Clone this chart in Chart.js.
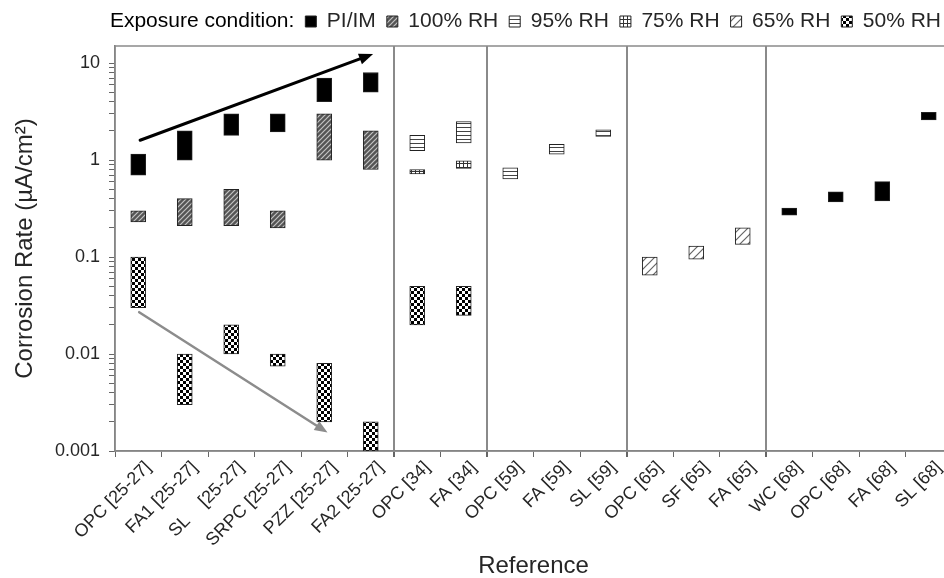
<!DOCTYPE html>
<html><head><meta charset="utf-8">
<script src="https://cdn.jsdelivr.net/npm/chart.js@4.4.1/dist/chart.umd.min.js"></script>
<style>html,body{margin:0;padding:0;overflow:hidden;background:#fff;width:944px;height:578px}canvas{display:block}</style>
</head><body>
<canvas id="c" width="960" height="578"></canvas>
<script>
// ---- data ----
const categories = ['OPC [25-27]','FA1 [25-27]','SL    [25-27]','SRPC [25-27]','PZZ [25-27]','FA2 [25-27]',
  'OPC [34]','FA [34]','OPC [59]','FA [59]','SL [59]','OPC [65]','SF [65]','FA [65]',
  'WC [68]','OPC [68]','FA [68]','SL [68]'];
const seriesNames = ['PI/IM','100% RH','95% RH','75% RH','65% RH','50% RH'];
const piIm  = [[0.7,1.15],[1,2],[1.8,3],[1.95,3],[4,7],[5,8],null,null,null,null,null,null,null,null,[0.27,0.32],[0.37,0.47],[0.38,0.6],[2.6,3.1]];
const rh100 = [[0.23,0.3],[0.21,0.4],[0.21,0.5],[0.2,0.3],[1,3],[0.8,2],null,null,null,null,null,null,null,null,null,null,null,null];
const rh95  = [null,null,null,null,null,null,[1.25,1.8],[1.5,2.5],[0.64,0.83],[1.15,1.45],[1.75,2.05],null,null,null,null,null,null,null];
const rh75  = [null,null,null,null,null,null,[0.72,0.8],[0.82,0.98],null,null,null,null,null,null,null,null,null,null];
const rh65  = [null,null,null,null,null,null,null,null,null,null,null,[0.065,0.1],[0.095,0.13],[0.135,0.2],null,null,null,null];
const rh50  = [[0.03,0.1],[0.003,0.01],[0.01,0.02],[0.0075,0.01],[0.002,0.008],[0.001,0.002],[0.02,0.05],[0.025,0.05],null,null,null,null,null,null,null,null,null,null];
const yMajorTicks = [0.001,0.01,0.1,1,10];
const yTickLabels = ['0.001','0.01','0.1','1','10'];
const groupStarts = [6,8,11,14];
const legendTitle = 'Exposure condition:';
const yTitle = 'Corrosion Rate (\u00B5A/cm\u00B2)';
const xTitle = 'Reference';
const arrowUp   = {from:[0.04,1.6],  to:[5.05,12.4]};
const arrowDown = {from:[0.02,0.027], to:[4.07,0.00155]};

// ---- patterns ----
function makePattern(size, draw){const c=document.createElement('canvas');c.width=c.height=size;const g=c.getContext('2d');draw(g,size);return g.createPattern(c,'repeat');}
const fillPI = '#000000';
const fill100 = makePattern(5,(g,s)=>{g.fillStyle='#555';g.fillRect(0,0,s,s);g.strokeStyle='#c4c4c4';g.lineWidth=1.2;g.beginPath();g.moveTo(0,s);g.lineTo(s,0);g.moveTo(-2,2);g.lineTo(2,-2);g.moveTo(s-2,s+2);g.lineTo(s+2,s-2);g.stroke();});
const fill95 = makePattern(4,(g,s)=>{g.fillStyle='#fff';g.fillRect(0,0,s,s);g.fillStyle='#444';g.fillRect(0,3,s,1);});
const fill75 = makePattern(4,(g,s)=>{g.fillStyle='#fff';g.fillRect(0,0,s,s);g.fillStyle='#333';g.fillRect(0,3,s,1);g.fillRect(3,0,1,s);});
const fill65 = makePattern(8,(g,s)=>{g.fillStyle='#fff';g.fillRect(0,0,s,s);g.strokeStyle='#666';g.lineWidth=1.2;g.beginPath();g.moveTo(0,s);g.lineTo(s,0);g.moveTo(-2,2);g.lineTo(2,-2);g.moveTo(s-2,s+2);g.lineTo(s+2,s-2);g.stroke();});
const fill50 = makePattern(6,(g,s)=>{g.fillStyle='#fff';g.fillRect(0,0,s,s);g.fillStyle='#000';g.fillRect(0,0,3,3);g.fillRect(3,3,3,3);});

const yMinorTicks = [];
[0.001,0.01,0.1,1].forEach(d=>{for(let k=2;k<=9;k++) yMinorTicks.push(+(d*k).toPrecision(3));});
const yAllTicks = yMajorTicks.concat(yMinorTicks).sort((a,b)=>a-b);

const FONT = "'Liberation Sans', Arial, sans-serif";
const TXT = '#262626';

function ds(label, data, fill){
  return {label, data, backgroundColor: fill, borderColor:'#222', borderWidth:1, borderSkipped:false,
    grouped:false, barThickness:15};
}

const legendSpacer = {id:'legendSpacer', beforeInit(chart){
  const lg = chart.legend; if(!lg) return;
  const f = lg.fit; lg.fit = function(){ f.call(this); this.height += 4; };
}};
const framePlugin = {id:'frame', beforeDatasetsDraw(chart){const {ctx,chartArea:a}=chart;ctx.save();ctx.strokeStyle='#8a8a8a';ctx.lineWidth=1.5;ctx.strokeRect(a.left,a.top,a.right-a.left,a.bottom-a.top);ctx.restore();}};
function drawArrow(chart, arr, color, width, head){
  const x=chart.scales.x, y=chart.scales.y, ctx=chart.ctx;
  const x0=x.getPixelForValue(arr.from[0]), y0=y.getPixelForValue(arr.from[1]);
  const x1=x.getPixelForValue(arr.to[0]), y1=y.getPixelForValue(arr.to[1]);
  const ang=Math.atan2(y1-y0,x1-x0);
  ctx.save();ctx.strokeStyle=color;ctx.fillStyle=color;ctx.lineWidth=width;ctx.lineCap='round';
  ctx.beginPath();ctx.moveTo(x0,y0);ctx.lineTo(x1-Math.cos(ang)*head*0.8,y1-Math.sin(ang)*head*0.8);ctx.stroke();
  ctx.beginPath();ctx.moveTo(x1,y1);
  ctx.lineTo(x1-Math.cos(ang)*head+Math.sin(ang)*head*0.4, y1-Math.sin(ang)*head-Math.cos(ang)*head*0.4);
  ctx.lineTo(x1-Math.cos(ang)*head-Math.sin(ang)*head*0.4, y1-Math.sin(ang)*head+Math.cos(ang)*head*0.4);
  ctx.closePath();ctx.fill();ctx.restore();
}
const arrowPlugin = {id:'arrows', afterDatasetsDraw(chart){drawArrow(chart,arrowUp,'#000',3,14);drawArrow(chart,arrowDown,'#8c8c8c',2.5,13);}};

new Chart(document.getElementById('c'), {
  type:'bar',
  data:{labels:categories, datasets:[
    ds(seriesNames[0],piIm,fillPI), ds(seriesNames[1],rh100,fill100), ds(seriesNames[2],rh95,fill95),
    ds(seriesNames[3],rh75,fill75), ds(seriesNames[4],rh65,fill65), ds(seriesNames[5],rh50,fill50)]},
  plugins:[legendSpacer, framePlugin, arrowPlugin],
  options:{
    responsive:false, animation:false, devicePixelRatio:1,
    layout:{padding:{left:0,right:8,top:0,bottom:0}},
    plugins:{
      tooltip:{enabled:false},
      legend:{position:'top', align:'end',
        labels:{font:{family:FONT, size:21}, color:TXT, boxWidth:11, boxHeight:11, padding:11,
          generateLabels(chart){
            const items = Chart.defaults.plugins.legend.labels.generateLabels(chart);
            items.forEach(it=>{it.lineWidth=1;it.strokeStyle='#222';});
            return [{text:legendTitle, fillStyle:'rgba(0,0,0,0)', strokeStyle:'rgba(0,0,0,0)', lineWidth:0, hidden:false, datasetIndex:null}].concat(items);
          }}}
    },
    scales:{
      x:{type:'category', offset:true,
        grid:{offset:true, drawOnChartArea:true, tickLength:6, tickColor:'#666',
          color:(c)=>groupStarts.includes(c.index)?'#8a8a8a':'rgba(0,0,0,0)',
          lineWidth:(c)=>groupStarts.includes(c.index)?2:1},
        border:{display:true,color:'#777',width:1.5},
        ticks:{autoSkip:false,minRotation:45,maxRotation:45,font:{family:FONT,size:18},color:TXT,padding:0,labelOffset:10},
        title:{display:true,text:xTitle,font:{family:FONT,size:24,lineHeight:1},color:TXT,padding:{top:0,bottom:0}},
        afterFit(s){s.height=127;s.paddingLeft=0;s.paddingRight=0;}
      },
      y:{type:'logarithmic', min:0.001, max:15,
        afterBuildTicks(s){s.ticks=yAllTicks.map(v=>({value:v, major:yMajorTicks.includes(v)}));},
        ticks:{autoSkip:false,font:{family:FONT,size:18},color:TXT,padding:9,
          callback:(v)=>{const i=yMajorTicks.indexOf(v);return i>=0?yTickLabels[i]:'';}},
        grid:{drawOnChartArea:false,tickLength:6,tickColor:'#666'},
        border:{display:true,color:'#777',width:1.5},
        title:{display:true,text:yTitle,font:{family:FONT,size:24,lineHeight:1},color:TXT,padding:{top:13,bottom:0}},
        afterFit(s){s.width=115;s.paddingTop=6;s.paddingBottom=0;}
      }
    }
  }
});
</script>
</body></html>
